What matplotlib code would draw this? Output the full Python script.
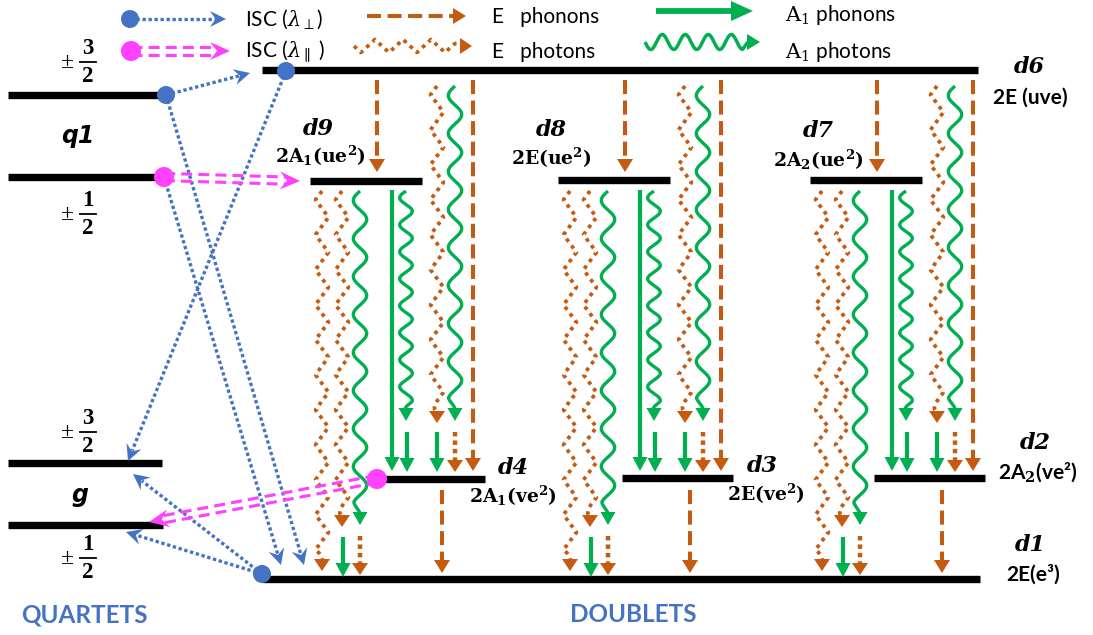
import numpy as np
import matplotlib.pyplot as plt
from matplotlib.patches import Polygon, Circle

plt.rcParams['mathtext.fontset'] = 'dejavuserif'

# ---- diagram content ----
quartet_names = ['q1', 'g']
spin_numerators = ['3', '1', '3', '1']
spin_denominators = ['2', '2', '2', '2']
doublet_names = ['d6', 'd9', 'd8', 'd7', 'd4', 'd3', 'd2', 'd1']
doublet_terms = ['2E (uve)', r'2A$_\mathbf{1}$(ue$^\mathbf{2}$)', r'2E(ue$^\mathbf{2}$)',
                 r'2A$_\mathbf{2}$(ue$^\mathbf{2}$)', r'2A$_\mathbf{1}$(ve$^\mathbf{2}$)',
                 r'2E(ve$^\mathbf{2}$)', '2A$_\\mathbf{2}$(ve²)', '2E(e³)']
# each group: upper doublet -> lower doublet
groups = [('d9', 'd4'), ('d8', 'd3'), ('d7', 'd2')]
legend_labels = [r'ISC ($\lambda_\perp$)', r'ISC ($\lambda_\parallel$ )',
                 'E   phonons', 'E   photons',
                 r'$\mathrm{A_1}$ phonons', r'$\mathrm{A_1}$ photons']
section_titles = ['QUARTETS', 'DOUBLETS']

GREEN = '#00B050'
ORANGE = '#C55A11'
BLUE = '#4472C4'
PINK = '#FF40FF'

# ---- layout (pixel canvas) ----
lev = {
    'q1_hi': (8, 166, 95), 'q1_lo': (8, 164, 177),
    'g_hi': (8, 162, 463), 'g_lo': (8, 163, 525),
    'd6': (262, 978, 70), 'd1': (262, 980, 579),
    'd9': (310, 422, 181), 'd8': (558, 670, 180), 'd7': (810, 922, 180),
    'd4': (374, 485, 479), 'd3': (622, 733, 478), 'd2': (874, 985, 478),
}
group_dx = [0, 248, 500]

STY = {
    'Eph': dict(color=ORANGE, lw=2.9, ls=(0, (3.5, 1.6)), hl=13, hw=8, wave=None),
    'Ept': dict(color=ORANGE, lw=2.7, ls=(0, (1, 1.25)), hl=12, hw=8, wave=('zig', 6.5, 35)),
    'Aph': dict(color=GREEN, lw=3.0, ls='-', hl=14, hw=7.5, wave=None),
    'Apt': dict(color=GREEN, lw=2.4, ls='-', hl=13, hw=7.5, wave=('sin', 6.7, 38)),
    'AptS': dict(color=GREEN, lw=2.4, ls='-', hl=13, hw=7.5, wave=('sin', 6.3, 27)),
    'Edot': dict(color=ORANGE, lw=3.2, ls=(0, (1, 0.9)), hl=12, hw=8, wave=None),
}

# transitions of the first group (x, y_start, y_tip); others are shifted copies
template = [
    ('Eph', 377, 80, 172), ('Ept', 437, 86, 423), ('Apt', 455, 86, 421),
    ('Eph', 473, 80, 471), ('Ept', 322, 191, 571), ('Ept', 342, 191, 527),
    ('Apt', 360, 191, 525), ('Aph', 392, 190, 471), ('AptS', 406, 191, 421),
    ('Aph', 407, 432, 472), ('Aph', 437, 432, 472), ('Edot', 455, 432, 472),
    ('Aph', 343, 537, 577), ('Edot', 360, 536, 575), ('Eph', 442, 490, 573),
]

fig = plt.figure(figsize=(10.93, 6.35), dpi=100)
ax = fig.add_axes([0, 0, 1, 1])
ax.set_xlim(0, 1093)
ax.set_ylim(635, 0)
ax.axis('off')


def head(tip, u, hl, hw, color, notch=0.0, z=5):
    tip = np.asarray(tip, float)
    n = np.array([-u[1], u[0]])
    base = tip - hl * u
    mid = base + notch * hl * u
    ax.add_patch(Polygon([tip, base + hw * n, mid, base - hw * n], closed=True,
                         fc=color, ec='none', zorder=z))


def arrow(p0, p1, color, lw, ls='-', hl=12, hw=7, notch=0.0, wave=None,
          double=0.0, z=4):
    p0 = np.asarray(p0, float)
    p1 = np.asarray(p1, float)
    d = p1 - p0
    L = np.hypot(*d)
    u = d / L
    n = np.array([-u[1], u[0]])
    Lline = L - hl * (0.75 if notch == 0 else (1 - notch) + 0.05)
    s = np.linspace(0, Lline, 600)
    off = np.zeros_like(s)
    if wave is not None:
        kind, amp, per = wave
        ph = 2 * np.pi * s / per
        if kind == 'sin':
            off = amp * np.sin(ph)
        else:
            off = amp * (2 / np.pi) * np.arcsin(np.sin(ph))
        taper = np.clip((Lline - s) / (0.35 * per), 0, 1)
        off = off * taper
    for k in ([-1, 1] if double else [0]):
        pts = p0[None, :] + s[:, None] * u[None, :] + (off + k * double)[:, None] * n[None, :]
        ax.plot(pts[:, 0], pts[:, 1], color=color, lw=lw, ls=ls,
                solid_capstyle='butt', zorder=z)
    head(p1, u, hl, hw, color, notch, z + 1)


def styled(kind, p0, p1):
    st = STY[kind]
    arrow(p0, p1, st['color'], st['lw'], st['ls'], st['hl'], st['hw'], wave=st['wave'])


def isc_blue(p0, p1):
    arrow(p0, p1, BLUE, 2.4, (0, (1, 0.8)), hl=16, hw=8, notch=0.35)


def isc_pink(p0, p1):
    arrow(p0, p1, PINK, 2.2, (0, (3.6, 2.0)), hl=20, hw=9, notch=0.35, double=3.6)


def dot(xy, color, r):
    ax.add_patch(Circle(xy, r, fc=color, ec='none', zorder=8))


# ---- energy levels ----
for key, (x0, x1, y) in lev.items():
    ax.plot([x0, x1], [y, y], color='black', lw=5.3, solid_capstyle='butt', zorder=3)

# ---- group transitions ----
for dx in group_dx:
    for kind, x, y0, y1 in template:
        styled(kind, (x + dx, y0), (x + dx, y1))

# ---- ISC arrows ----
isc_blue((166, 95), (250, 73))
isc_blue((286, 71), (128, 461))
isc_blue((166, 95), (304, 565))
isc_blue((164, 177), (281, 565))
isc_blue((262, 574), (133, 474))
isc_blue((262, 574), (126, 532))
isc_pink((164, 177), (300, 181))
isc_pink((377, 479), (149, 522))
dot((166, 95), BLUE, 9)
dot((286, 71), BLUE, 9)
dot((262, 574), BLUE, 9)
dot((164, 177), PINK, 10)
dot((377, 479), PINK, 10)

# ---- level labels ----
lab_kw = dict(ha='center', va='center', zorder=10)
ax.text(78, 136, quartet_names[0], fontsize=17, family='DejaVu Sans', style='italic',
        weight='bold', **lab_kw)
ax.text(80, 495, quartet_names[1], fontsize=17, family='DejaVu Sans', style='italic',
        weight='bold', **lab_kw)
for ybar, num, den in zip([62, 214, 432, 558], spin_numerators, spin_denominators):
    ax.text(68, ybar + 1, '±', fontsize=17, family='Liberation Serif', **lab_kw)
    ax.text(88, ybar - 13, num, fontsize=16.5, family='Liberation Serif', weight='bold', **lab_kw)
    ax.text(88, ybar + 15, den, fontsize=16.5, family='Liberation Serif', weight='bold', **lab_kw)
    ax.plot([80, 96], [ybar, ybar], color='black', lw=1.3, zorder=10)

name_pos = {'d6': (1029, 67), 'd9': (318, 129), 'd8': (551, 130), 'd7': (818, 131),
            'd4': (513, 468), 'd3': (762, 466), 'd2': (1035, 443), 'd1': (1030, 545)}
term_pos = {'d6': (1030, 98), 'd9': (320, 156), 'd8': (551, 158), 'd7': (818, 160),
            'd4': (513, 496), 'd3': (766, 494), 'd2': (1038, 472), 'd1': (1033, 574)}
sans_terms = {'d6', 'd2', 'd1'}
for name, term in zip(doublet_names, doublet_terms):
    ax.text(*name_pos[name], name, fontsize=16, family='DejaVu Serif',
            style='italic', weight='bold', **lab_kw)
    if name in sans_terms:
        ax.text(*term_pos[name], term, fontsize=15, family='Lato', weight='bold', **lab_kw)
    else:
        ax.text(*term_pos[name], term, fontsize=13.5, family='DejaVu Serif', weight='bold',
                **lab_kw)

ax.text(84, 615, section_titles[0], fontsize=17.5, family='Lato', weight='bold',
        color=BLUE, **lab_kw)
ax.text(633, 615, section_titles[1], fontsize=17.5, family='Lato', weight='bold',
        color=BLUE, **lab_kw)

# ---- legend ----
isc_blue((130, 19), (226, 19))
dot((130, 19), BLUE, 9)
isc_pink((131, 51), (230, 51))
dot((131, 51), PINK, 10)
styled('Eph', (367, 16), (466, 16))
arrow((354, 46), (472, 46), ORANGE, 2.7, (0, (1, 1.25)), hl=12, hw=8, wave=('zig', 6.5, 28))
arrow((656, 11), (753, 11), GREEN, 4.2, '-', hl=22, hw=10)
arrow((645, 42), (760, 42), GREEN, 2.5, '-', hl=13, hw=8, wave=('sin', 7.5, 23))
leg_pos = [(245, 19), (245, 51), (492, 17), (492, 52), (785, 15), (785, 52)]
for (x, y), s in zip(leg_pos, legend_labels):
    ax.text(x, y, s, fontsize=15, family='Lato', ha='left', va='center', zorder=10)

fig.savefig('out.png', dpi=100)
